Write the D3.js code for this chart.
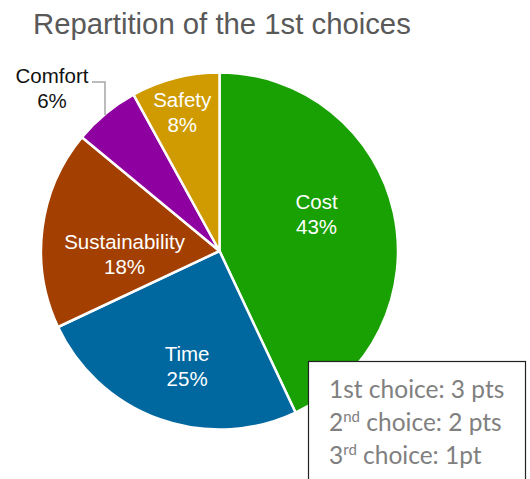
<!DOCTYPE html>
<html>
<head>
<meta charset="utf-8">
<script src="https://cdn.jsdelivr.net/npm/d3@7"></script>
<style>
  body { margin: 0; background: #fff; }
  svg { display: block; }
</style>
</head>
<body>
<div class="chart-div"></div>
<script>
var outerWidth = 530;
var outerHeight = 479;

// data
var categories = ["Cost", "Time", "Sustainability", "Comfort", "Safety"];
var shares = [43, 25, 18, 6, 8];
var colors = ["#19a003", "#00679f", "#a33f00", "#8e00a0", "#cf9b00"];
var noteLines = [["1st choice: 3 pts", ""], ["2", "nd", " choice: 2 pts"], ["3", "rd", " choice: 1pt"]];

var cx = 219.5, cy = 251, radius = 178.5;

// label placement relative to the pie centre (Excel "best fit")
var labelRadius = {Cost: 104, Time: 119, Sustainability: 95, Safety: 144};
var labelAngle = {Cost: 69, Time: 195.8, Sustainability: 268, Safety: 345};

var svg = d3.select(".chart-div").append("svg")
  .attr("width", outerWidth)
  .attr("height", outerHeight);

svg.append("text")
  .attr("x", 33)
  .attr("y", 34)
  .attr("font-family", "Liberation Sans, Arial, sans-serif")
  .attr("font-size", 29.3)
  .attr("fill", "#595959")
  .text("Repartition of the 1st choices");

var data = categories.map(function(c, i) { return {name: c, value: shares[i], color: colors[i]}; });

var pie = d3.pie().sort(null).value(function(d) { return d.value; });
var arc = d3.arc().innerRadius(0).outerRadius(radius);

var g = svg.append("g").attr("transform", "translate(" + cx + "," + cy + ")");

var arcs = pie(data);

g.selectAll("path.slice")
  .data(arcs)
  .enter().append("path")
  .attr("class", "slice")
  .attr("d", arc)
  .attr("fill", function(d) { return d.data.color; })
  .attr("stroke", "#fff")
  .attr("stroke-width", 2.5)
  .attr("stroke-linejoin", "round");

// inside labels
arcs.forEach(function(d) {
  var name = d.data.name;
  if (!(name in labelRadius)) return;
  var a = labelAngle[name] * Math.PI / 180;
  var x = labelRadius[name] * Math.sin(a);
  var y = -labelRadius[name] * Math.cos(a);
  var t = g.append("text")
    .attr("text-anchor", "middle")
    .attr("font-family", "Liberation Sans, Arial, sans-serif")
    .attr("font-size", 20.5)
    .attr("fill", "#fff");
  t.append("tspan").attr("x", x).attr("y", y - 5).text(name);
  t.append("tspan").attr("x", x).attr("y", y + 20).text(d.data.value + "%");
});

// Comfort label outside with a leader line
var comfort = arcs[3];
var mid = (comfort.startAngle + comfort.endAngle) / 2;
var edge = [ (radius - 2) * Math.sin(mid), -(radius - 2) * Math.cos(mid) ];
var lx = 52 - cx, ly = 83 - cy;

g.append("path")
  .attr("d", "M" + (lx + 40) + "," + (ly - 1) + "H" + (edge[0] - 2) + "V" + edge[1])
  .attr("fill", "none")
  .attr("stroke", "#a6a6a6")
  .attr("stroke-width", 1.5);

var ct = g.append("text")
  .attr("text-anchor", "middle")
  .attr("font-family", "Liberation Sans, Arial, sans-serif")
  .attr("font-size", 20.5)
  .attr("fill", "#111");
ct.append("tspan").attr("x", lx).attr("y", ly).text(comfort.data.name);
ct.append("tspan").attr("x", lx).attr("y", ly + 25).text(comfort.data.value + "%");

// note box
var box = svg.append("g").attr("transform", "translate(308.5,361.5)");
box.append("rect")
  .attr("width", 217)
  .attr("height", 130)
  .attr("fill", "#fff")
  .attr("stroke", "#222")
  .attr("stroke-width", 1.2);

noteLines.forEach(function(parts, i) {
  var t = box.append("text")
    .attr("x", 20.5)
    .attr("y", 36.5 + i * 33)
    .attr("font-family", "Lato, Carlito, sans-serif")
    .attr("font-size", 24.5)
    .attr("fill", "#808080");
  if (parts.length === 2) {
    t.text(parts[0]);
  } else {
    t.append("tspan").text(parts[0]);
    t.append("tspan").attr("dy", -9).attr("font-size", 15).text(parts[1]);
    t.append("tspan").attr("dy", 9).text(parts[2]);
  }
});
</script>
</body>
</html>
